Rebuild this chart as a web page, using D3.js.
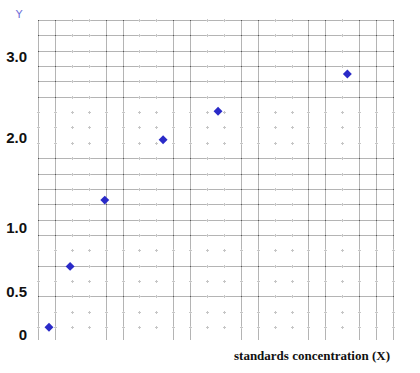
<!DOCTYPE html>
<html>
<head>
<meta charset="utf-8">
<script src="https://cdn.jsdelivr.net/npm/d3@7"></script>
<style>
  body { margin: 0; background: #fff; }
  svg { display: block; }
</style>
</head>
<body>
<div id="chart"></div>
<script>
// standards (x, in grid units) and measured Y
var xValues = [0.65, 1.9, 3.95, 7.4, 10.65, 18.3];
var yValues = [0.09, 0.7, 1.31, 1.98, 2.33, 2.79];
var yTicks = [0, 0.5, 1.0, 2.0, 3.0];
var yTickLabels = ["0", "0.5", "1.0", "2.0", "3.0"];
// grid: which columns / rows are drawn solid (others only dotted)
var gridCols = d3.range(0, 22);
var gridRows = d3.range(0, 21);
var solidCols = [0, 1, 4, 5, 8, 9, 12, 13, 16, 17, 19, 20, 21];
var solidRows = [0, 1, 2, 3, 4, 5, 9, 10, 11, 12, 13, 14, 16, 18];

var width = 420,
  height = 373;

var svg = d3.select("div#chart").append("svg")
  .attr("width", width)
  .attr("height", height);

var x = d3.scaleLinear().domain([0, 21]).range([38, 393]);
var row = d3.scaleLinear().domain([0, 20]).range([20, 327]);
// the Y labels of this sheet are not evenly spaced
var y = d3.scaleLinear().domain([0, 0.5, 1, 2, 3]).range([335, 292, 228, 138, 57]);

// solid grid lines
svg.append("g").selectAll("line")
  .data(solidCols)
  .enter().append("line")
  .attr("x1", function(d) { return Math.round(x(d)) + 0.5; })
  .attr("x2", function(d) { return Math.round(x(d)) + 0.5; })
  .attr("y1", row(0))
  .attr("y2", 340)
  .attr("stroke", "#b4b4b4");

svg.append("g").selectAll("line")
  .data(solidRows)
  .enter().append("line")
  .attr("y1", function(d) { return Math.round(row(d)) + 0.5; })
  .attr("y2", function(d) { return Math.round(row(d)) + 0.5; })
  .attr("x1", x(0))
  .attr("x2", x(21))
  .attr("stroke", "#b4b4b4");

// marks at every grid crossing: small plus where lines are missing
var crossings = [];
gridRows.forEach(function(r) {
  gridCols.forEach(function(c) { crossings.push([c, r]); });
});
var cross = svg.append("g").selectAll("g")
  .data(crossings)
  .enter().append("g")
  .attr("transform", function(d) {
    return "translate(" + Math.round(x(d[0])) + "," + Math.round(row(d[1])) + ")";
  });

cross.filter(function(d) {
    return solidCols.indexOf(d[0]) >= 0 && solidRows.indexOf(d[1]) >= 0;
  })
  .append("rect")
  .attr("width", 1).attr("height", 1)
  .attr("fill", "#555");

cross.filter(function(d) {
    return !(solidCols.indexOf(d[0]) >= 0 && solidRows.indexOf(d[1]) >= 0);
  })
  .append("path")
  .attr("d", "M-1,0.5H2M0.5,-1V2")
  .attr("stroke", "#c6c6c6")
  .attr("fill", "none");

// y tick labels
svg.append("g").selectAll("text")
  .data(yTicks)
  .enter().append("text")
  .attr("x", 27)
  .attr("y", function(d) { return y(d); })
  .attr("dy", "0.35em")
  .attr("text-anchor", "end")
  .attr("font-family", "Liberation Sans, Arial, sans-serif")
  .attr("font-weight", "bold")
  .attr("font-size", 15)
  .attr("fill", "#111")
  .text(function(d, i) { return yTickLabels[i]; });

svg.append("text")
  .attr("x", 19)
  .attr("y", 18)
  .attr("text-anchor", "middle")
  .attr("font-family", "DejaVu Sans, sans-serif")
  .attr("font-size", 11)
  .attr("fill", "#7070d8")
  .text("Y");

svg.append("text")
  .attr("x", 390)
  .attr("y", 360)
  .attr("text-anchor", "end")
  .attr("font-family", "Liberation Serif, Times New Roman, serif")
  .attr("font-weight", "bold")
  .attr("font-size", 13)
  .attr("fill", "#111")
  .text("standards concentration (X)");

// points
svg.append("g").selectAll("path.pt")
  .data(xValues)
  .enter().append("path")
  .attr("class", "pt")
  .attr("d", d3.symbol().type(d3.symbolSquare).size(40))
  .attr("transform", function(d, i) {
    return "translate(" + x(d) + "," + y(yValues[i]) + ") rotate(45)";
  })
  .attr("fill", "#2a2ac8");
</script>
</body>
</html>
